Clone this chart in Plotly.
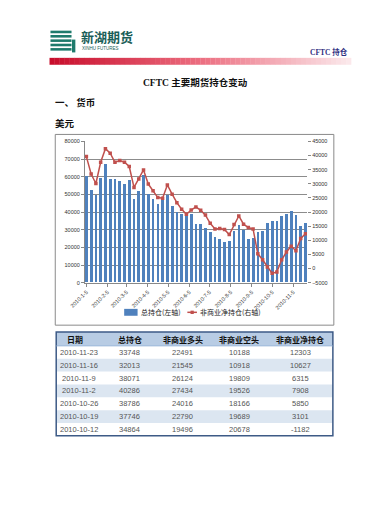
import plotly.graph_objects as go
import pandas as pd

W, H = 375, 510

# ---------------- data ----------------
dates = pd.date_range("2010-01-05", periods=47, freq="7D")
tick_dates = ["2010-01-05", "2010-02-05", "2010-03-05", "2010-04-05", "2010-05-05", "2010-06-05",
              "2010-07-05", "2010-08-05", "2010-09-05", "2010-10-05", "2010-11-05"]
tick_labels = ["2010-1-5", "2010-2-5", "2010-3-5", "2010-4-5", "2010-5-5", "2010-6-5",
               "2010-7-5", "2010-8-5", "2010-9-5", "2010-10-5", "2010-11-5"]

total_oi = [60000, 52300, 49700, 59000, 67200, 58500, 58500, 57500, 55700, 58100,
            47300, 51600, 60500, 50100, 47300, 44500, 46800, 49200, 43000, 39800,
            38500, 37400, 38500, 32800, 32800, 30600, 28700, 25900, 24800, 22900,
            23600, 29200, 32400, 29600, 24600, 25300, 28700, 29200, 33400, 34800,
            34864, 37746, 38786, 40286, 38071, 32013, 33748]
net_pos = [39600, 33450, 30100, 37600, 42400, 40800, 37600, 38200, 37600, 36100,
           28700, 31700, 34900, 29900, 27500, 25100, 24900, 29600, 26300, 23300,
           21000, 19200, 20700, 21800, 20600, 18900, 16000, 14000, 14200, 13800,
           12000, 15600, 18600, 15700, 14500, 14000, 5200, 3100, 500, -1700,
           -1182, 3101, 5850, 7908, 6315, 10627, 12303]

tbl_header = ["日期", "总持仓", "非商业多头", "非商业空头", "非商业净持仓"]
tbl_dates = ["2010-11-23", "2010-11-16", "2010-11-9", "2010-11-2", "2010-10-26", "2010-10-19", "2010-10-12"]
tbl_total = [33748, 32013, 38071, 40286, 38786, 37746, 34864]
tbl_long = [22491, 21545, 26124, 27434, 24016, 22790, 19496]
tbl_short = [10188, 10918, 19809, 19526, 18166, 19689, 20678]
tbl_net = [12303, 10627, 6315, 7908, 5850, 3101, -1182]

legend_bar = "总持仓(左轴)"
legend_line = "非商业净持仓(右轴)"


def px(x):
    return x / W


def py(y):
    return 1 - y / H


CJK = "Noto Sans CJK SC"
NUM = "Liberation Sans"

fig = go.Figure()

fig.add_trace(go.Bar(x=dates, y=total_oi, name=legend_bar, marker=dict(color="#4F81BD", line_width=0),
                     width=4.0 * 86400000, yaxis="y", showlegend=False))
fig.add_trace(go.Scatter(x=dates, y=net_pos, name=legend_line, mode="lines+markers",
                         line=dict(color="#C0504D", width=1.5),
                         marker=dict(symbol="square", size=3.5, color="#C0504D"),
                         yaxis="y2", showlegend=False))

shapes = []
annotations = []


def text(t, x, y, size, color="#111", anchor="left", family=CJK):
    annotations.append(dict(text=t, x=px(x), y=py(y), xref="paper", yref="paper",
                            xanchor=anchor, yanchor="middle", showarrow=False,
                            font=dict(family=family, size=size, color=color)))


def rect(x0, y0, x1, y1, fill, line=None, layer="below"):
    d = dict(type="rect", xref="paper", yref="paper", x0=px(x0), x1=px(x1),
             y0=py(y1), y1=py(y0), fillcolor=fill, layer=layer)
    if line is None:
        d["line"] = dict(width=0)
    else:
        d["line"] = line
    shapes.append(d)


# logo stripes
for i in range(5):
    y0 = 28 + i * 4.4
    rect(36, y0, 58, y0 + 2.6, "#1E7A6C")
rect(58.5, 37, 62, 50, "#1E7A6C")
text("<b>新湖期货</b>", 66, 33.5, 13, "#1B5E58")
text("XINHU FUTURES", 67, 46.5, 4.5, "#1B5E58", family=NUM)
text("<b>CFTC 持仓</b>", 349, 49.5, 7.5, "#2E2E80", anchor="right", family="Liberation Serif, " + CJK)

# red gradient bar
n = 60
c0, c1, c2 = (200, 14, 44), (236, 110, 128), (251, 232, 235)
for i in range(n):
    t = i / (n - 1)
    if t < 0.5:
        u = t / 0.5
        c = [round(c0[k] + (c1[k] - c0[k]) * u) for k in range(3)]
    else:
        u = (t - 0.5) / 0.5
        c = [round(c1[k] + (c2[k] - c1[k]) * u) for k in range(3)]
    xa = 35 + (350 - 35) * i / n
    xb = 35 + (350 - 35) * (i + 1) / n + 0.3
    rect(xa, 55.5, xb, 62.5, "rgb(%d,%d,%d)" % tuple(c))

text("<b>CFTC 主要期货持仓变动</b>", 187, 80, 9.5, anchor="center", family="Liberation Serif, " + CJK)
text("<b>一、 货币</b>", 39, 100.5, 9.5)
text("<b>美元</b>", 39, 121, 9.5)

# chart frame
rect(41, 133, 332, 326, "rgba(0,0,0,0)", line=dict(color="#8A8A8A", width=1))

# legend
rect(113, 309.5, 127, 316.5, "#4F81BD")
text(legend_bar, 128.5, 313, 7, "#222")
shapes.append(dict(type="line", xref="paper", yref="paper", x0=px(179), x1=px(189),
                   y0=py(313), y1=py(313), line=dict(color="#C0504D", width=1.5)))
rect(182.3, 311.3, 185.7, 314.7, "#C0504D")
text(legend_line, 190, 313, 7, "#222")

# table
col_edges = [42, 93, 145, 203, 263, 331]
col_centers = [(col_edges[i] + col_edges[i + 1]) / 2 for i in range(5)]
col_centers[0] = 66
top, hh, rh = 333, 14, 13
rect(42, top, 331, top + hh, "#B8CCE4")
for j, h in enumerate(tbl_header):
    text("<b>%s</b>" % h, col_centers[j] - (4 if j == 0 else 0), top + hh / 2, 8, "#111", anchor="center")
cols = [tbl_dates, tbl_total, tbl_long, tbl_short, tbl_net]
for i in range(len(tbl_dates)):
    y0 = top + hh + i * rh
    if i % 2 == 1:
        rect(42, y0, 331, y0 + rh, "#DCE6F1")
    for j in range(5):
        text(str(cols[j][i]), col_centers[j], y0 + rh / 2, 7.5, "#555", anchor="center", family=NUM)
bottom = top + hh + len(tbl_dates) * rh
rect(42, top, 331, bottom, "rgba(0,0,0,0)", line=dict(color="#3D5A86", width=1.5), layer="above")
shapes.append(dict(type="line", xref="paper", yref="paper", x0=px(42), x1=px(331),
                   y0=py(top + hh), y1=py(top + hh), line=dict(color="#95B3D7", width=0.8)))

fig.update_layout(
    width=W, height=H, margin=dict(l=0, r=0, t=0, b=0),
    paper_bgcolor="white", plot_bgcolor="rgba(0,0,0,0)",
    bargap=0, showlegend=False,
    shapes=shapes, annotations=annotations,
    xaxis=dict(type="date", domain=[px(72), px(304)],
               range=["2010-01-02 21:00", "2010-11-25 07:00"],
               tickmode="array", tickvals=tick_dates, ticktext=tick_labels,
               tickangle=-45, ticks="outside", ticklen=3, tickcolor="#888",
               showline=True, linecolor="#888", linewidth=1, showgrid=False, zeroline=False,
               tickfont=dict(family=NUM, size=5.5, color="#333")),
    yaxis=dict(domain=[py(283), py(140)], range=[0, 80000], dtick=10000, tickformat="d",
               showgrid=True, gridcolor="#8C8C8C", gridwidth=1, zeroline=False,
               ticks="outside", ticklen=3, tickcolor="#888",
               showline=True, linecolor="#888", linewidth=1,
               tickfont=dict(family=NUM, size=5.5, color="#333")),
    yaxis2=dict(overlaying="y", side="right", anchor="x", range=[-5000, 45000], dtick=5000,
                tickformat="d", showgrid=False, zeroline=False,
                ticks="outside", ticklen=3, tickcolor="#888", showline=False,
                tickfont=dict(family=NUM, size=5.5, color="#333")),
)

fig.write_html("out.html")
